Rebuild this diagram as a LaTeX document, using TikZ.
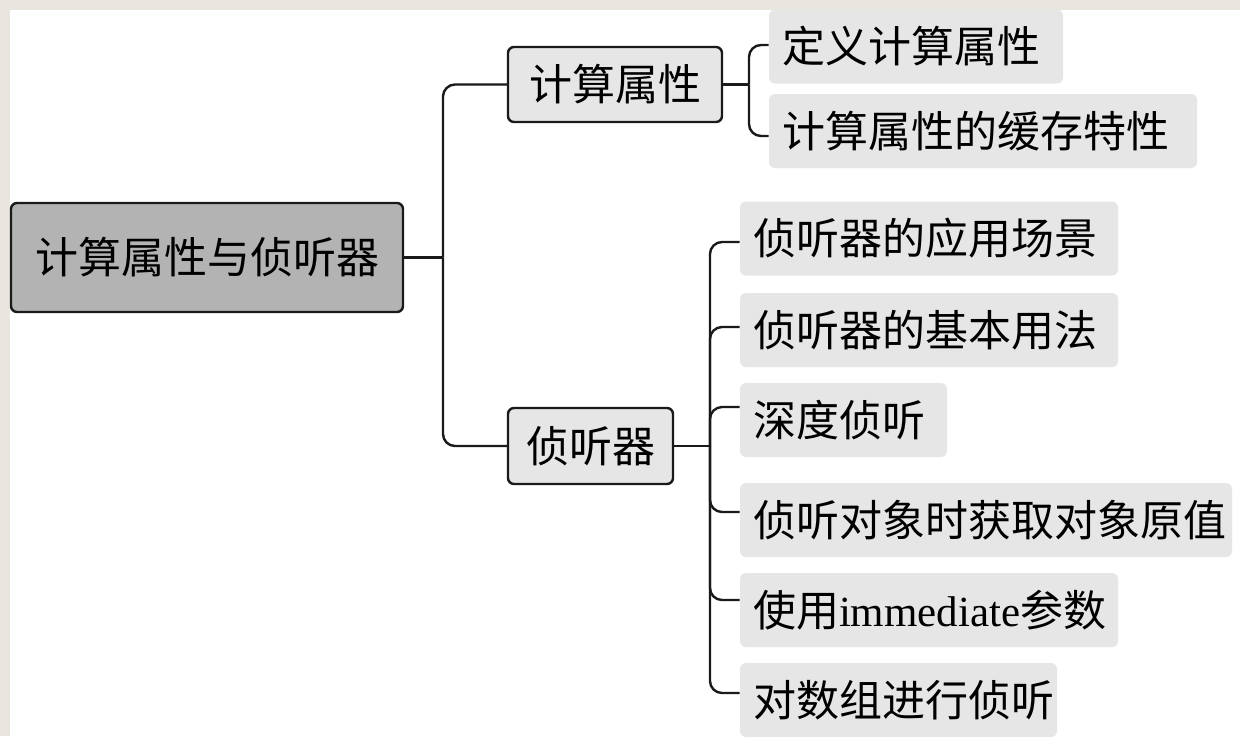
\documentclass[tikz,border=0pt]{standalone}
\usepackage{fontspec}
\setmainfont{Noto Sans CJK SC}
\newfontfamily\latfont{Liberation Serif}
\definecolor{bg}{HTML}{E9E5DF}
\definecolor{rootgray}{HTML}{B3B3B3}
\definecolor{boxgray}{HTML}{E6E6E6}
\definecolor{leafgray}{HTML}{E6E6E6}
\definecolor{ink}{HTML}{1A1A1A}
\begin{document}
\begin{tikzpicture}[x=0.5pt,y=-0.5pt,
  font=\fontsize{21.5pt}{26pt}\selectfont,
  rootbox/.style={draw=ink, line width=1.2pt, fill=rootgray, rounded corners=3pt, inner sep=0pt},
  midbox/.style={draw=ink, line width=1.2pt, fill=boxgray, rounded corners=3pt, inner sep=0pt},
  leaf/.style={fill=leafgray, rounded corners=3pt, inner xsep=6.5pt, inner ysep=0pt, align=left, text width=#1, minimum height=37pt},
  conn/.style={draw=ink, line width=1.2pt, rounded corners=6pt}]
\fill[bg] (0,0) rectangle (1240,736);
\fill[white] (10,10) rectangle (1240,736);
\useasboundingbox (0,0) rectangle (1240,736);

\node[rootbox, minimum width=196pt, minimum height=54.5pt] (root) at (207,257.5) {计算属性与侦听器};
\node[midbox, minimum width=107pt, minimum height=37.5pt] (comp) at (615,84.5) {计算属性};
\node[midbox, minimum width=82.5pt, minimum height=38pt] (watch) at (590.5,446) {侦听器};

\node[leaf=134pt] (a1) at (916,46.5) {定义计算属性};
\node[leaf=201pt] (a2) at (983,131) {计算属性的缓存特性};

\node[leaf=176pt] (b1) at (929,238.5) {侦听器的应用场景};
\node[leaf=176pt] (b2) at (929,330) {侦听器的基本用法};
\node[leaf=90.5pt] (b3) at (843.5,420) {深度侦听};
\node[leaf=233pt] (b4) at (986,520) {侦听对象时获取对象原值};
\node[leaf=176pt] (b5) at (929,610) {使用{\latfont immediate}参数};
\node[leaf=145.5pt] (b6) at (898.5,700) {对数组进行侦听};

\coordinate (j0) at (443,0);
\coordinate (j1) at (749,0);
\coordinate (j2) at (710,0);

\draw[conn] (root.east) -- (root.east -| j0);
\draw[conn] (comp.west) -| (root.east -| j0);
\draw[conn] (watch.west) -| (root.east -| j0);

\draw[conn] (comp.east) -- (comp.east -| j1);
\draw[conn] ([yshift=0.75pt]a1.west) -| (comp.east -| j1);
\draw[conn] ([yshift=-2.5pt]a2.west) -| (comp.east -| j1);

\draw[conn] (watch.east) -- (watch.east -| j2);
\draw[conn] ([yshift=-1.75pt]b1.west) -| (watch.east -| j2);
\draw[conn] ([yshift=1.5pt]b2.west) -| (watch.east -| j2);
\draw[conn] ([yshift=6.5pt]b3.west) -| (watch.east -| j2);
\draw[conn] ([yshift=4pt]b4.west) -| (watch.east -| j2);
\draw[conn] ([yshift=5pt]b5.west) -| (watch.east -| j2);
\draw[conn] ([yshift=3.5pt]b6.west) -| (watch.east -| j2);
\end{tikzpicture}
\end{document}
